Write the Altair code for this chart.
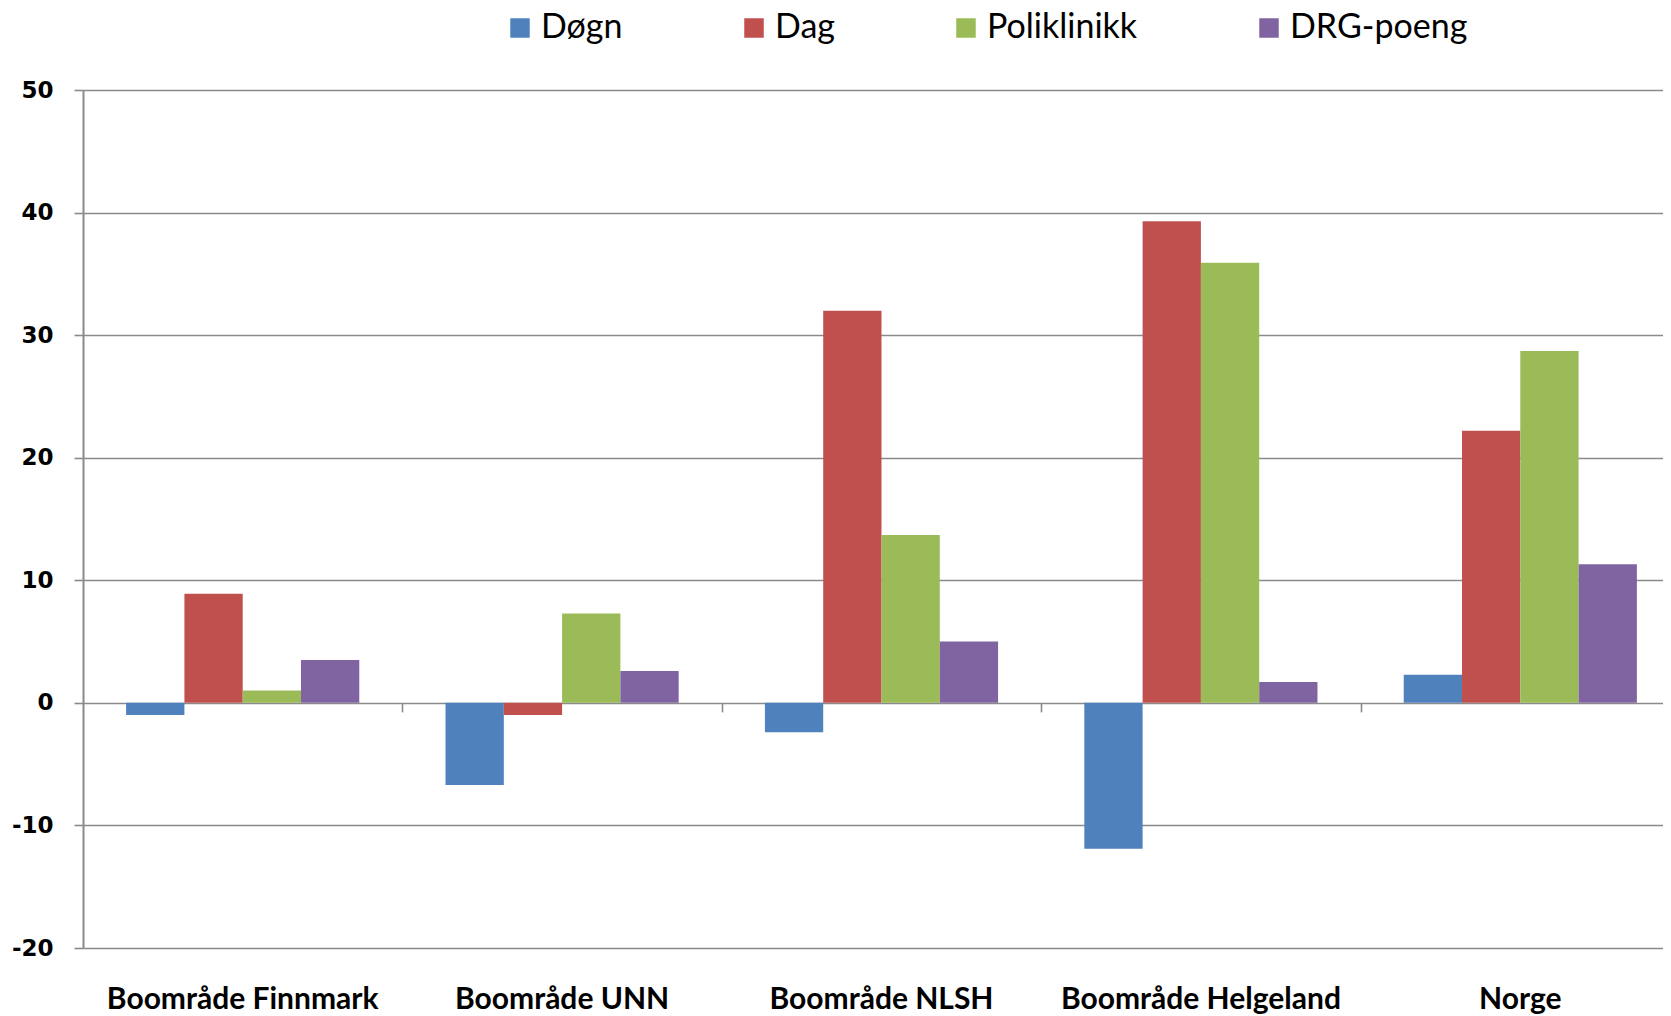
import altair as alt
import pandas as pd

categories = ["Boområde Finnmark", "Boområde UNN", "Boområde NLSH", "Boområde Helgeland", "Norge"]
series = ["Døgn", "Dag", "Poliklinikk", "DRG-poeng"]
dogn = [-1.0, -6.7, -2.4, -11.9, 2.3]
dag = [8.9, -1.0, 32.0, 39.3, 22.2]
poli = [1.0, 7.3, 13.7, 35.9, 28.7]
drg = [3.5, 2.6, 5.0, 1.7, 11.3]
colors = ["#4F81BD", "#C0504D", "#9BBB59", "#8064A2"]
y_ticks = [-20, -10, 0, 10, 20, 30, 40, 50]

rows = []
for s, vals in zip(series, [dogn, dag, poli, drg]):
    for c, v in zip(categories, vals):
        rows.append({"Område": c, "Serie": s, "Verdi": v})
df = pd.DataFrame(rows)

W, H = 1580, 858
GRID = "#8a8a8a"
PI = 0.27
STEP = 319.4
xscale = alt.Scale(paddingInner=PI, paddingOuter=PI / 2, range=[0, STEP * len(categories)])

bars = alt.Chart(df).mark_bar().encode(
    x=alt.X("Område:N", sort=categories, scale=xscale,
            axis=alt.Axis(title=None, domain=False, ticks=False, labelAngle=0, labelLimit=0,
                          labelFont="Lato", labelFontWeight="bold", labelFontSize=30,
                          labelColor="#000000", labelPadding=36)),
    xOffset=alt.XOffset("Serie:N", sort=series, scale=alt.Scale(paddingInner=0, paddingOuter=0)),
    y=alt.Y("Verdi:Q", scale=alt.Scale(domain=[-20, 50], nice=False, zero=False),
            axis=alt.Axis(title=None, values=y_ticks, grid=True, gridColor=GRID, gridWidth=1.6,
                          domain=True, domainColor=GRID, domainWidth=2,
                          ticks=True, tickColor=GRID, tickSize=9, tickWidth=1.6,
                          labelExpr="'' + datum.value",
                          labelFont="DejaVu Sans", labelFontWeight="bold", labelFontSize=23,
                          labelColor="#000000", labelPadding=21)),
    color=alt.Color("Serie:N", sort=series, scale=alt.Scale(domain=series, range=colors),
                    legend=alt.Legend(title=None, orient="none", direction="horizontal",
                                      legendX=420, legendY=-79, labelLimit=0,
                                      symbolType="square", symbolSize=380, symbolStrokeWidth=0,
                                      labelFont="Lato", labelFontSize=34, labelColor="#000000",
                                      labelOffset=4, columnPadding=114, padding=0)),
)

ticks = alt.Chart(df).mark_bar(opacity=0).encode(
    x=alt.X("Område:N", sort=categories, scale=xscale,
            axis=alt.Axis(title=None, orient="bottom", offset=-H * 20 / 70, labels=False,
                          domain=False, ticks=True, bandPosition=1, tickOffset=PI * STEP / 2,
                          tickColor=GRID, tickSize=9, tickWidth=1.6)),
    y=alt.Y("Verdi:Q"),
)

chart = alt.layer(bars, ticks).resolve_axis(x="independent").properties(
    width=W, height=H,
    autosize=alt.AutoSizeParams(type="none"),
    padding={"left": 75, "top": 82, "right": 0, "bottom": 70},
).configure_view(stroke=None)

chart.save("out.html", embed_options={"renderer": "svg", "actions": False})
